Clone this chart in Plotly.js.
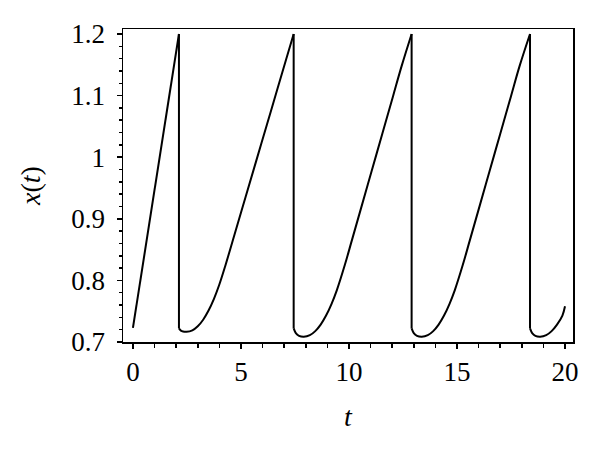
<!DOCTYPE html>
<html>
<head>
<meta charset="utf-8">
<script src="https://cdn.plot.ly/plotly-3.0.1.min.js"></script>
<style>
  html, body { margin: 0; padding: 0; background: #fff; }
  #chart { width: 600px; height: 456px; }
</style>
</head>
<body>
<div id="chart"></div>
<script>
// time t and state x(t), one array pair per segment
const rampT = [0.00, 2.13];
const rampX = [0.723, 1.200];

const cycle1T = [2.13, 2.22, 2.32, 2.48, 2.75, 3.00, 3.25, 3.50, 3.75, 4.00, 4.27, 4.70, 5.20, 5.70, 6.20, 6.70, 7.10, 7.44];
const cycle1X = [0.722, 0.7185, 0.7170, 0.7165, 0.7189, 0.7255, 0.7362, 0.7511, 0.7701, 0.7933, 0.8230, 0.8742, 0.9337, 0.9932, 1.0527, 1.1122, 1.1598, 1.200];

const cycle2T = [7.44, 7.54, 7.69, 7.91, 8.19, 8.44, 8.69, 8.94, 9.19, 9.44, 9.81, 10.14, 10.54, 11.04, 11.54, 12.04, 12.44, 12.90];
const cycle2X = [0.722, 0.7145, 0.7100, 0.7086, 0.7111, 0.7177, 0.7283, 0.7429, 0.7616, 0.7843, 0.8253, 0.8658, 0.9149, 0.9763, 1.0377, 1.0991, 1.1482, 1.200];

const cycle3T = [12.90, 13.00, 13.15, 13.37, 13.65, 13.90, 14.15, 14.40, 14.65, 14.90, 15.27, 15.60, 16.00, 16.50, 17.00, 17.50, 17.90, 18.38];
const cycle3X = [0.722, 0.7145, 0.7100, 0.7086, 0.7111, 0.7177, 0.7283, 0.7429, 0.7616, 0.7843, 0.8253, 0.8658, 0.9149, 0.9763, 1.0377, 1.0991, 1.1482, 1.200];

const cycle4T = [18.38, 18.48, 18.63, 18.85, 19.13, 19.38, 19.63, 19.88, 20.00];
const cycle4X = [0.722, 0.7145, 0.7100, 0.7086, 0.7111, 0.7177, 0.7283, 0.7429, 0.758];

const xTicks = [0, 5, 10, 15, 20];
const xTickLabels = ['0', '5', '10', '15', '20'];
const yTicks = [0.7, 0.8, 0.9, 1.0, 1.1, 1.2];
const yTickLabels = ['0.7', '0.8', '0.9', '1', '1.1', '1.2'];

const serif = '"Liberation Serif", "DejaVu Serif", serif';
const lineStyle = { color: '#000', width: 2 };

const segments = [[rampT, rampX], [cycle1T, cycle1X], [cycle2T, cycle2X], [cycle3T, cycle3X], [cycle4T, cycle4X]];

const traces = segments.map(function (s, i) {
  return {
    x: s[0], y: s[1], type: 'scatter', mode: 'lines',
    line: Object.assign({}, lineStyle, i === 0 ? { shape: 'linear' } : { shape: 'spline', smoothing: 1 }),
    hoverinfo: 'skip'
  };
});

// vertical drops: from the peak ending one segment to the start of the next
const dropT = [], dropX = [];
for (let i = 0; i < segments.length - 1; i++) {
  const a = segments[i], b = segments[i + 1];
  dropT.push(a[0][a[0].length - 1], b[0][0], null);
  dropX.push(a[1][a[1].length - 1], b[1][0], null);
}
traces.push({ x: dropT, y: dropX, type: 'scatter', mode: 'lines', line: lineStyle, hoverinfo: 'skip' });

const axisCommon = {
  showgrid: false,
  zeroline: false,
  showline: true,
  linecolor: '#000',
  linewidth: 1.5,
  mirror: true,
  ticks: 'outside',
  ticklen: 5,
  tickwidth: 1.5,
  tickcolor: '#000',
  tickfont: { family: serif, size: 27, color: '#000' },
  tickmode: 'array',
  fixedrange: true
};

const layout = {
  width: 600,
  height: 456,
  margin: { l: 123, r: 27, t: 29, b: 114 },
  paper_bgcolor: '#fff',
  plot_bgcolor: '#fff',
  showlegend: false,
  xaxis: Object.assign({}, axisCommon, {
    range: [-0.46, 20.37],
    tickvals: xTicks,
    ticktext: xTickLabels,
    minor: { dtick: 1, ticks: 'outside', ticklen: 4, tickwidth: 1.5, tickcolor: '#000' },
    title: { text: '<i>t</i>', font: { family: serif, size: 28, color: '#000' }, standoff: 20 }
  }),
  yaxis: Object.assign({}, axisCommon, {
    range: [0.7, 1.2081],
    tickvals: yTicks,
    ticktext: yTickLabels,
    ticklabelstandoff: 6,
    minor: { dtick: 0.02, tick0: 0.7, ticks: 'outside', ticklen: 3, tickwidth: 1.5, tickcolor: '#000' },
    title: { text: '<i>x</i>(<i>t</i>)', font: { family: serif, size: 28, color: '#000' }, standoff: 22 }
  })
};

Plotly.newPlot('chart', traces, layout, { displayModeBar: false, staticPlot: true });
</script>
</body>
</html>
